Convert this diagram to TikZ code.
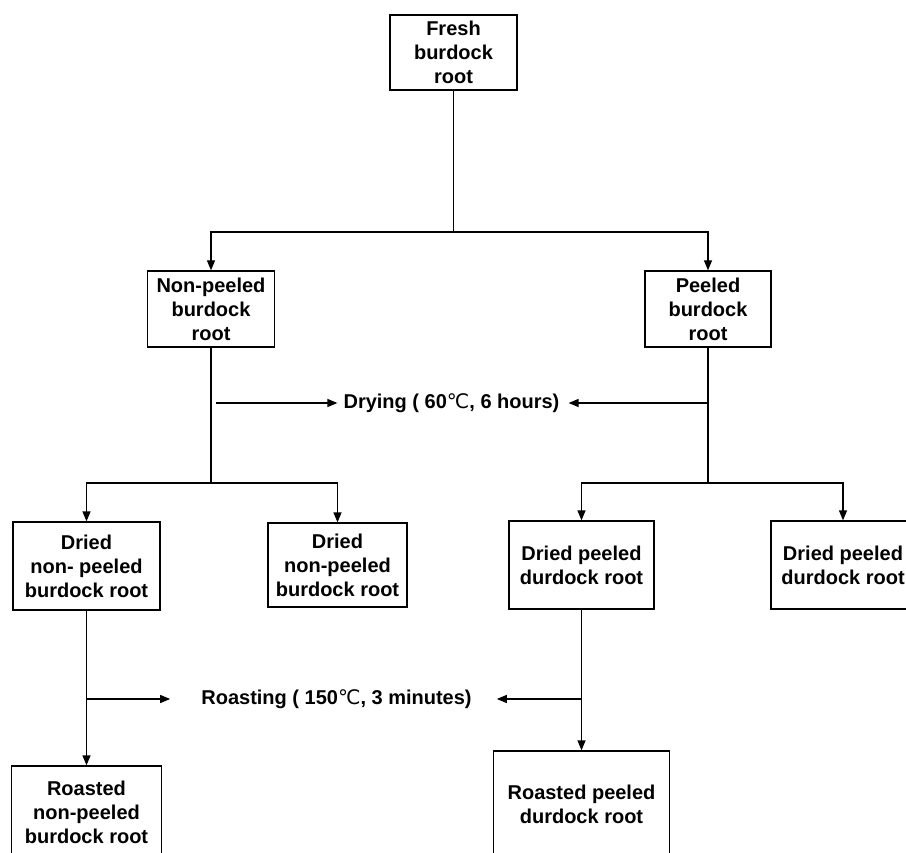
\documentclass[tikz,border=0pt]{standalone}
\usepackage{fontspec}
\setmainfont{Liberation Sans}
\newfontfamily\dejavu{DejaVu Sans}
\usetikzlibrary{arrows.meta}
\newcommand{\degC}{{\dejavu\mdseries ℃}}
\begin{document}
\begin{tikzpicture}[x=1pt,y=-1pt,
  box/.style={draw,line width=1.3pt,align=center,font=\fontsize{20}{24}\selectfont\bfseries,inner sep=0pt},
  lbl/.style={font=\fontsize{20}{24}\selectfont\bfseries,inner sep=0pt},
  conn/.style={line width=1.3pt},
  arr/.style={conn,-{Triangle[length=10pt,width=8pt]}}]
\useasboundingbox (0,0) rectangle (906,853);
\clip (0,0) rectangle (906,853);
% boxes
\node[box,minimum width=127,minimum height=75] (fresh) at (453.5,52.5) {Fresh\\burdock\\root};
\node[box,minimum width=127,minimum height=76] (np) at (211,309) {Non-peeled\\burdock\\root};
\node[box,minimum width=126,minimum height=76] (p) at (708,309) {Peeled\\burdock\\root};
\node[box,minimum width=147,minimum height=88] (d1) at (86.5,566) {Dried\\non- peeled\\burdock root};
\node[box,minimum width=139,minimum height=84] (d2) at (337.5,565) {Dried\\non-peeled\\burdock root};
\node[box,minimum width=145,minimum height=88] (d3) at (581.5,565) {Dried peeled\\durdock root};
\node[box,minimum width=144,minimum height=88] (d4) at (843,565) {Dried peeled\\durdock root};
\node[box,minimum width=150,minimum height=92] (r1) at (86.5,812) {Roasted\\non-peeled\\burdock root};
\node[box,minimum width=176,minimum height=106] (r2) at (581.5,804) {Roasted peeled\\durdock root};
% labels
\node[lbl] (dry) at (451.5,403) {Drying ( 60\degC, 6 hours)};
\node[lbl] (roast) at (336.5,699) {Roasting ( 150\degC, 3 minutes)};
% junctions
\coordinate (j1) at (453.5,232);
\coordinate (j2) at (211,483);
\coordinate (j3) at (708,483);
\coordinate (da) at (216,403);
\coordinate (db) at (708,403);
\coordinate (ra) at (86.5,699);
\coordinate (rb) at (581.5,699);
% connectors
\draw[conn] (fresh.south) -- (j1);
\draw[arr] (j1) -| (np.north);
\draw[arr] (j1) -| (p.north);
\draw[conn] (np.south) -- (j2);
\draw[arr] (j2) -| (d1.north);
\draw[arr] (j2) -| (d2.north);
\draw[conn] (p.south) -- (j3);
\draw[arr] (j3) -| (d3.north);
\draw[arr] (j3) -| (d4.north);
\draw[arr,shorten >=6pt] (da) -- (dry.west);
\draw[arr,shorten >=9pt] (db) -- (dry.east);
\draw[arr] (d1.south) -- (r1.north);
\draw[arr] (d3.south) -- (r2.north);
\draw[arr,shorten >=31pt] (ra) -- (roast.west);
\draw[arr,shorten >=25pt] (rb) -- (roast.east);
\end{tikzpicture}
\end{document}
